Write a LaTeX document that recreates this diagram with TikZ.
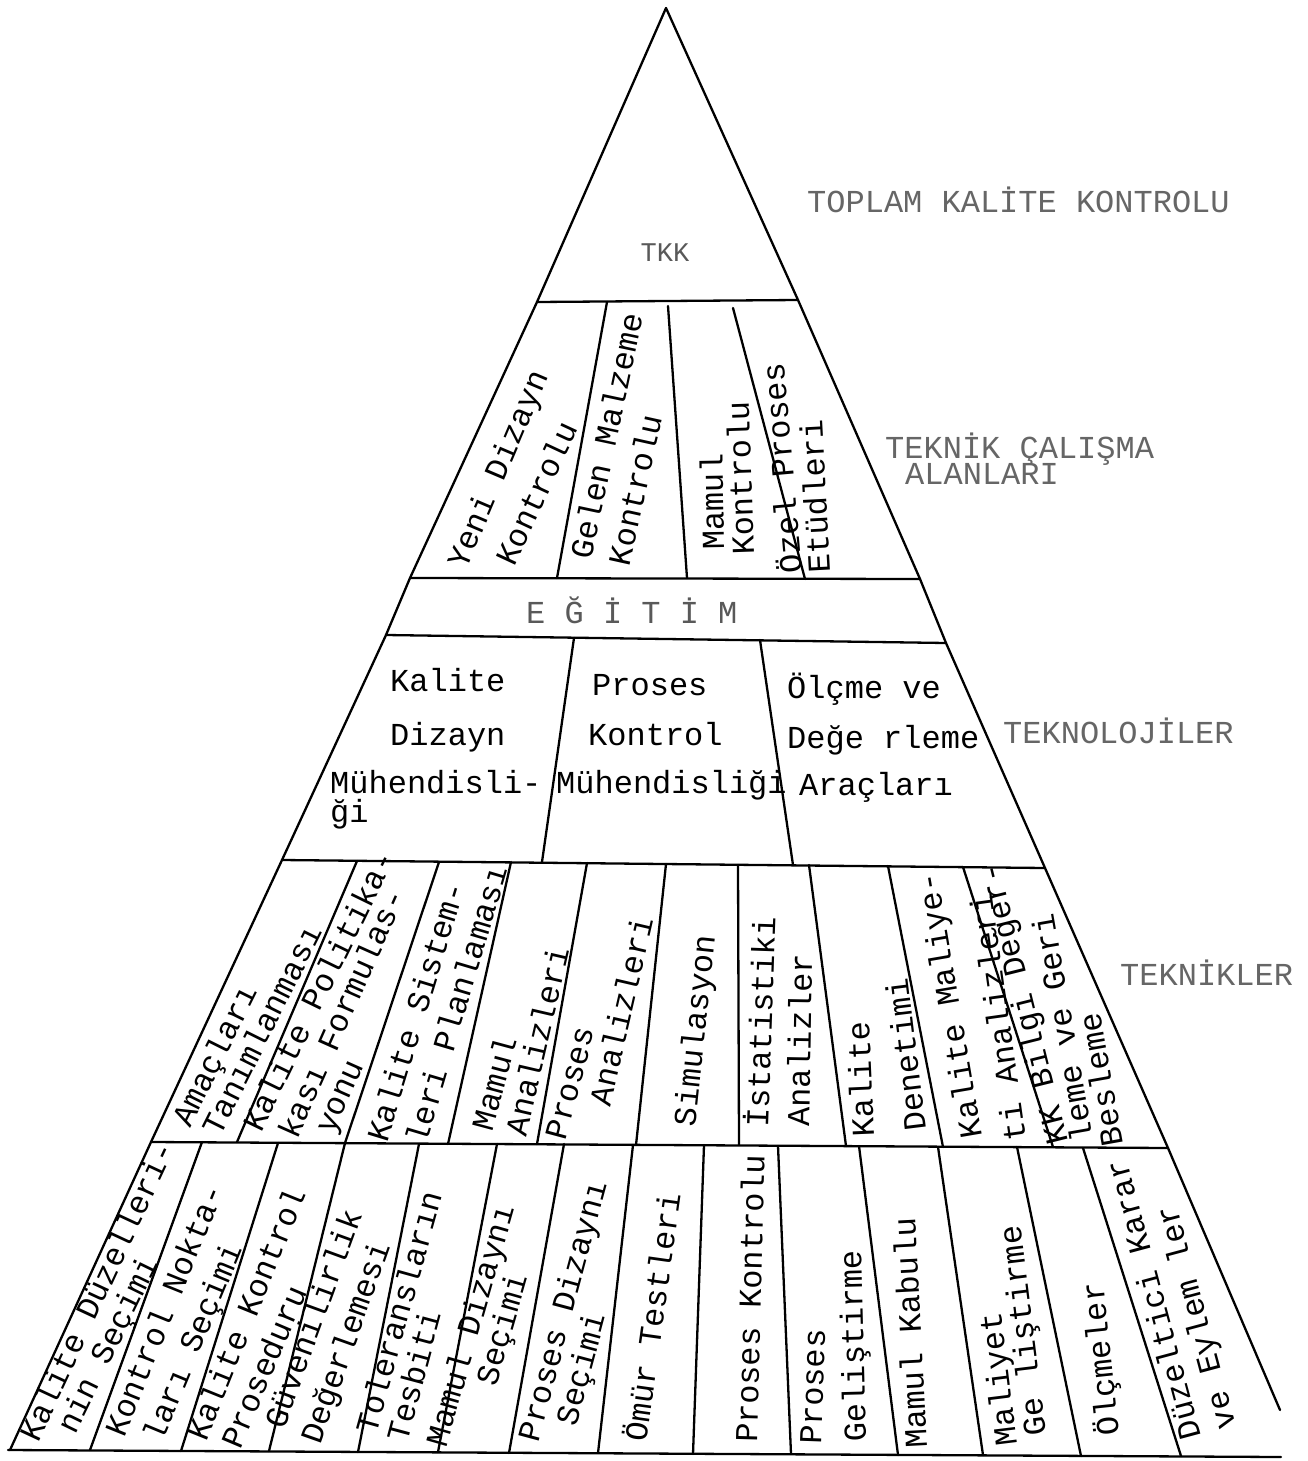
\documentclass[tikz,border=0pt]{standalone}
\usepackage{fontspec}
\newfontfamily\tw{Liberation Mono}
\begin{document}
\begin{tikzpicture}[x=1pt,y=-1pt,
  edge/.style={line width=2.3pt,line cap=round,line join=round},
  lbl/.style={font=\tw\fontsize{32}{32}\selectfont,inner sep=0pt,anchor=mid west},
  rlbl/.style={lbl,xshift=4pt},
  hlbl/.style={lbl,yshift=-6pt},
  side/.style={font=\tw\fontsize{32}{32}\selectfont,inner sep=0pt,anchor=mid west,text=black!60,yshift=-6pt},
]
\useasboundingbox (0,0) rectangle (1308,1461);
\fill[white] (0,0) rectangle (1308,1461);

% outline of the pyramid
\draw[edge] (666,8) -- (537,302) -- (410,578) -- (386,635) -- (282,860) -- (151,1142) -- (10,1450);
\draw[edge] (666,8) -- (798,300) -- (920,579) -- (946,643) -- (1045,868) -- (1168,1148) -- (1280,1410);
% band lines
\draw[edge] (537,302) -- (798,300);
\draw[edge] (410,578) -- (920,579);
\draw[edge] (386,635) -- (946,643);
\draw[edge] (282,860) -- (1045,868);
\draw[edge] (151,1142) -- (1168,1148);
\draw[edge] (8,1450) -- (1281,1457);

% dividers: technical work areas
\draw[edge] (607,302) -- (557,578);
\draw[edge] (668,306) -- (687,578);
\draw[edge] (733,308) -- (805,579);
% dividers: technologies
\draw[edge] (574,638) -- (542,862);
\draw[edge] (760,640) -- (793,865);
% dividers: techniques
\draw[edge] (357,861) -- (237,1142);
\draw[edge] (439,862) -- (345,1143);
\draw[edge] (511,862) -- (448,1144);
\draw[edge] (587,863) -- (537,1144);
\draw[edge] (666,864) -- (636,1145);
\draw[edge] (738,865) -- (739,1145);
\draw[edge] (809,865) -- (846,1146);
\draw[edge] (888,866) -- (943,1147);
\draw[edge] (963,867) -- (1053,1147);
% dividers: bottom band
\draw[edge] (202,1142) -- (90,1450);
\draw[edge] (278,1143) -- (181,1451);
\draw[edge] (345,1143) -- (269,1451);
\draw[edge] (419,1144) -- (358,1452);
\draw[edge] (497,1144) -- (438,1452);
\draw[edge] (564,1144) -- (509,1453);
\draw[edge] (633,1145) -- (598,1453);
\draw[edge] (704,1145) -- (693,1454);
\draw[edge] (778,1146) -- (791,1454);
\draw[edge] (859,1146) -- (898,1455);
\draw[edge] (938,1147) -- (983,1455);
\draw[edge] (1017,1147) -- (1081,1456);
\draw[edge] (1083,1148) -- (1181,1456);

% top
\node[font=\tw\fontsize{27}{27}\selectfont,text=black!65,inner sep=0pt] (tkk) at (665,253) {TKK};

% technical work areas
\node[rlbl,rotate=67] (a1) at (460,570) {Yeni Dizayn};
\node[rlbl,rotate=65] (a2) at (508,567) {Kontrolu};
\node[rlbl,rotate=78] (a3) at (585,560) {Gelen Malzeme};
\node[rlbl,rotate=77.5] (a4) at (623,567) {Kontrolu};
\node[rlbl,rotate=91] (a5) at (718,550) {Mamul};
\node[rlbl,rotate=92] (a6) at (748,555) {Kontrolu};
\node[rlbl,rotate=95] (a7) at (796,573) {Özel Proses};
\node[rlbl,rotate=93] (a8) at (824,573) {Etüdleri};

% education
\node[hlbl,text=black!65,yshift=2pt] (egt) at (526,617) {E Ğ İ T İ M};

% technologies
\node[hlbl] (b1) at (390,683) {Kalite};
\node[hlbl] (b2) at (390,737) {Dizayn};
\node[hlbl] (b3) at (330,785) {Mühendisli-};
\node[hlbl] (b4) at (330,814) {ği};
\node[hlbl] (b5) at (592,687) {Proses};
\node[hlbl] (b6) at (588,737) {Kontrol};
\node[hlbl] (b7) at (556,785) {Mühendisliği};
\node[hlbl] (b8) at (787,690) {Ölçme ve};
\node[hlbl] (b9) at (787,740) {Değe rleme};
\node[hlbl] (b10) at (799,787) {Araçları};

% techniques
\node[rlbl,rotate=63.5] (c1) at (184,1128) {Amaçları};
\node[rlbl,rotate=63.5] (c2) at (214,1137) {Tanımlanması};
\node[rlbl,rotate=64] (c3) at (255,1133) {Kalite Politika-};
\node[rlbl,rotate=66] (c4) at (291,1140) {kası Formulas-};
\node[rlbl,rotate=66] (c5) at (327,1135) {yonu};
\node[rlbl,rotate=73] (c6) at (381,1143) {Kalite Sistem-};
\node[rlbl,rotate=73.5] (c7) at (420,1145) {leri Planlaması};
\node[rlbl,rotate=75] (c8) at (486,1132) {Mamul};
\node[rlbl,rotate=77] (c9) at (520,1137) {Analizleri};
\node[rlbl,rotate=75] (c10) at (559,1141) {Proses};
\node[rlbl,rotate=77] (c11) at (604,1107) {Analizleri};
\node[rlbl,rotate=84] (c12) at (689,1127) {Simulasyon};
\node[rlbl,rotate=88] (c13) at (762,1128) {İstatistiki};
\node[rlbl,rotate=89] (c14) at (803,1127) {Analizler};
\node[rlbl,rotate=92.5] (c15) at (868,1137) {Kalite};
\node[rlbl,rotate=97] (c16) at (920,1130) {Denetimi};
\node[rlbl,rotate=99.7] (c17) at (976,1137) {Kalite Maliye-};
\node[rlbl,rotate=98] (c18) at (1020,1140) {ti Analizleri};
\node[rlbl,rotate=104] (c19) at (1062,1142) {KK Bilgi Değer-};
\node[rlbl,rotate=100] (c20) at (1087,1140) {leme ve Geri};
\node[rlbl,rotate=100] (c21) at (1117,1145) {Besleme};

% bottom band
\node[rlbl,rotate=65] (d1) at (32,1443) {Kalite Düzelleri-};
\node[rlbl,rotate=64] (d2) at (69,1435) {nin Seçimi};
\node[rlbl,rotate=68] (d3) at (118,1438) {Kontrol Nokta-};
\node[rlbl,rotate=67.5] (d4) at (156,1443) {ları Seçimi};
\node[rlbl,rotate=68] (d5) at (200,1442) {Kalite Kontrol};
\node[rlbl,rotate=67] (d6) at (234,1450) {Proseduru};
\node[rlbl,rotate=70] (d7) at (278,1430) {Güvenilirlik};
\node[rlbl,rotate=70.5] (d8) at (314,1445) {Değerlemesi};
\node[rlbl,rotate=74.5] (d9) at (370,1435) {Toleransların};
\node[rlbl,rotate=75] (d10) at (401,1443) {Tesbiti};
\node[rlbl,rotate=74] (d11) at (440,1448) {Mamul Dizaynı};
\node[rlbl,rotate=74] (d12) at (490,1387) {Seçimi};
\node[rlbl,rotate=75] (d13) at (532,1443) {Proses Dizaynı};
\node[rlbl,rotate=75] (d14) at (570,1427) {Seçimi};
\node[rlbl,rotate=82] (d15) at (640,1442) {Ömür Testleri};
\node[rlbl,rotate=88.5] (d16) at (751,1443) {Proses Kontrolu};
\node[rlbl,rotate=88] (d17) at (815,1445) {Proses};
\node[rlbl,rotate=91.5] (d18) at (860,1442) {Geliştirme};
\node[rlbl,rotate=93] (d19) at (921,1448) {Mamul Kabulu};
\node[rlbl,rotate=97] (d20) at (1011,1445) {Maliyet};
\node[rlbl,rotate=97] (d21) at (1040,1435) {Ge liştirme};
\node[rlbl,rotate=96] (d22) at (1113,1435) {Ölçmeler};
\node[rlbl,rotate=105] (d23) at (1195,1437) {Düzeltici Karar};
\node[rlbl,rotate=105] (d24) at (1230,1427) {ve Eylem ler};

% side labels
\node[side] (s1) at (807,204) {TOPLAM KALİTE KONTROLU};
\node[side] (s2) at (885,450) {TEKNİK ÇALIŞMA};
\node[side] (s3) at (905,476) {ALANLARI};
\node[side] (s4) at (1003,735) {TEKNOLOJİLER};
\node[side] (s5) at (1120,977) {TEKNİKLER};
\end{tikzpicture}
\end{document}
